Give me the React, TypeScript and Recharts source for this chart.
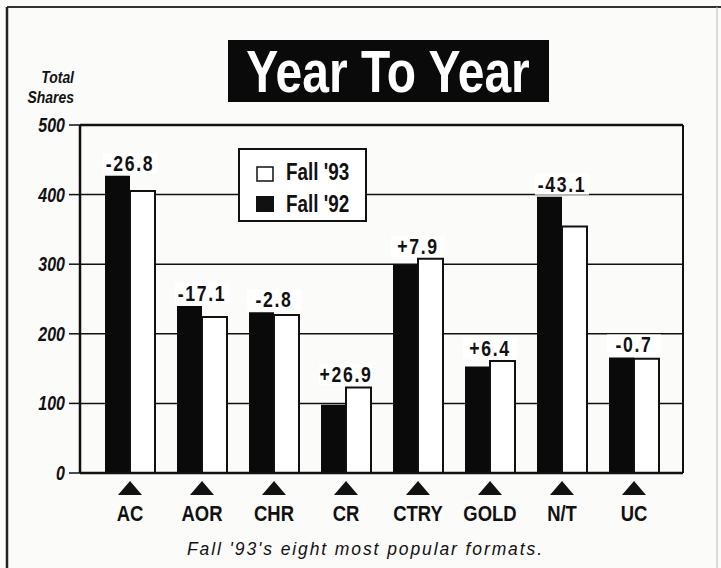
import React from 'react';
import { BarChart, Bar, XAxis, YAxis, CartesianGrid, LabelList, ReferenceLine } from 'recharts';

const categories = ['AC', 'AOR', 'CHR', 'CR', 'CTRY', 'GOLD', 'N/T', 'UC'];
const fall92 = [427, 240, 231, 98, 299, 153, 397, 166];
const fall93 = [405, 224, 227, 123, 308, 161, 354, 164];
const changes = ['-26.8', '-17.1', '-2.8', '+26.9', '+7.9', '+6.4', '-43.1', '-0.7'];
const yTicks = [0, 100, 200, 300, 400, 500];

const data = categories.map((c, i) => ({ name: c, f92: fall92[i], f93: fall93[i], change: changes[i] }));

const SANS = "'Liberation Sans', Arial, Helvetica, sans-serif";
const SQ = 0.82;

const NText = (p: any) => {
  const { x, y, anchor = 'start', size, italic, bold = true, fill = '#111', spacing, children } = p;
  return (
    <text
      transform={`translate(${x},${y}) scale(${SQ},1)`}
      x={0}
      y={0}
      textAnchor={anchor}
      fontFamily={SANS}
      fontWeight={bold ? 'bold' : 'normal'}
      fontStyle={italic ? 'italic' : 'normal'}
      fontSize={size}
      letterSpacing={spacing}
      fill={fill}
    >
      {children}
    </text>
  );
};

const YTick = (props: any) => {
  const { x, y, payload } = props;
  return (
    <NText x={x} y={y + 7} anchor="end" size={19.5} italic>
      {payload.value}
    </NText>
  );
};

const XTick = (props: any) => {
  const { x, y, payload } = props;
  return (
    <g>
      <path d={`M${x},${y + 8} L${x + 12},${y + 22} L${x - 12},${y + 22} Z`} fill="#111" />
      <NText x={x} y={y + 48} anchor="middle" size={22.5}>
        {payload.value}
      </NText>
    </g>
  );
};

const ChangeLabel = (props: any) => {
  const { x, y, height, value, index } = props;
  if (value == null || !height) return null;
  const bottom = y + height;
  const k = height / value;
  const top = Math.min(y, bottom - fall92[index] * k);
  const cx = x;
  const base = top - 5;
  return (
    <g>
      <rect x={cx - 27} y={base - 18} width={54} height={21} fill="#fff" />
      <NText x={cx} y={base} anchor="middle" size={21.5} spacing={2}>
        {changes[index]}
      </NText>
    </g>
  );
};

const LegendBox = () => (
  <svg width={129} height={74} style={{ display: 'block' }}>
    <rect x={1} y={1} width={127} height={72} fill="#fff" stroke="#111" strokeWidth={2} />
    <rect x={19} y={19} width={16} height={14} fill="#fff" stroke="#111" strokeWidth={1.5} />
    <NText x={48} y={32} size={23}>Fall '93</NText>
    <rect x={18} y={48} width={18} height={16} fill="#111" />
    <NText x={48} y={63.5} size={23}>Fall '92</NText>
  </svg>
);

export default function App() {
  return (
    <div style={{ position: 'absolute', left: 0, top: 0, width: 721, height: 568, background: '#fbfbf9', overflow: 'hidden' }}>
      <svg width={721} height={568} style={{ position: 'absolute', left: 0, top: 0 }}>
        <line x1={7} y1={7} x2={721} y2={7} stroke="#333" strokeWidth={2} />
        <line x1={7} y1={7} x2={7} y2={568} stroke="#222" strokeWidth={2.5} />
        <line x1={717} y1={7} x2={717} y2={568} stroke="#bbb" strokeWidth={1} />
        <rect x={228} y={40} width={321} height={62} fill="#0a0a0a" />
        <NText x={388} y={92} anchor="middle" size={58.5} fill="#fff">Year To Year</NText>
        <NText x={74} y={83} anchor="end" size={17} italic>Total</NText>
        <NText x={74} y={103} anchor="end" size={17} italic>Shares</NText>
        <text x={187} y={555} textLength={355} lengthAdjust="spacing" fontFamily={SANS} fontStyle="italic" fontSize={17.5} fill="#111">
          Fall '93's eight most popular formats.
        </text>
      </svg>
      <div style={{ position: 'absolute', left: 0, top: 0 }}>
        <BarChart width={721} height={568} data={data} margin={{ top: 125, right: 0, bottom: 0, left: 0 }} barGap={0} barSize={25}>
          <CartesianGrid yAxisId="l" horizontal vertical={false} stroke="#111" strokeWidth={1.5} />
          <XAxis
            dataKey="name"
            height={95}
            padding={{ left: 14, right: 13 }}
            axisLine={{ stroke: '#111', strokeWidth: 2.5 }}
            tickLine={false}
            tickSize={0}
            tickMargin={0}
            tick={<XTick />}
            interval={0}
          />
          <YAxis
            yAxisId="l"
            width={80}
            domain={[0, 500]}
            ticks={yTicks}
            allowDataOverflow
            axisLine={{ stroke: '#111', strokeWidth: 2.5 }}
            tickLine={{ stroke: '#111', strokeWidth: 1.5 }}
            tickSize={11}
            tickMargin={4}
            tick={<YTick />}
          />
          <YAxis
            yAxisId="r"
            orientation="right"
            width={38}
            domain={[0, 500]}
            ticks={yTicks}
            axisLine={{ stroke: '#111', strokeWidth: 2 }}
            tickLine={{ stroke: '#111', strokeWidth: 1.5 }}
            tickSize={3}
            tick={false}
          />
          <ReferenceLine yAxisId="l" y={500} stroke="#111" strokeWidth={2.5} />
          <Bar yAxisId="l" dataKey="f92" name="Fall '92" fill="#0a0a0a" isAnimationActive={false} />
          <Bar yAxisId="l" dataKey="f93" name="Fall '93" fill="#ffffff" stroke="#111" strokeWidth={2} isAnimationActive={false}>
            <LabelList dataKey="f93" content={<ChangeLabel />} />
          </Bar>
        </BarChart>
      </div>
      <div style={{ position: 'absolute', left: 238, top: 148 }}>
        <LegendBox />
      </div>
    </div>
  );
}
